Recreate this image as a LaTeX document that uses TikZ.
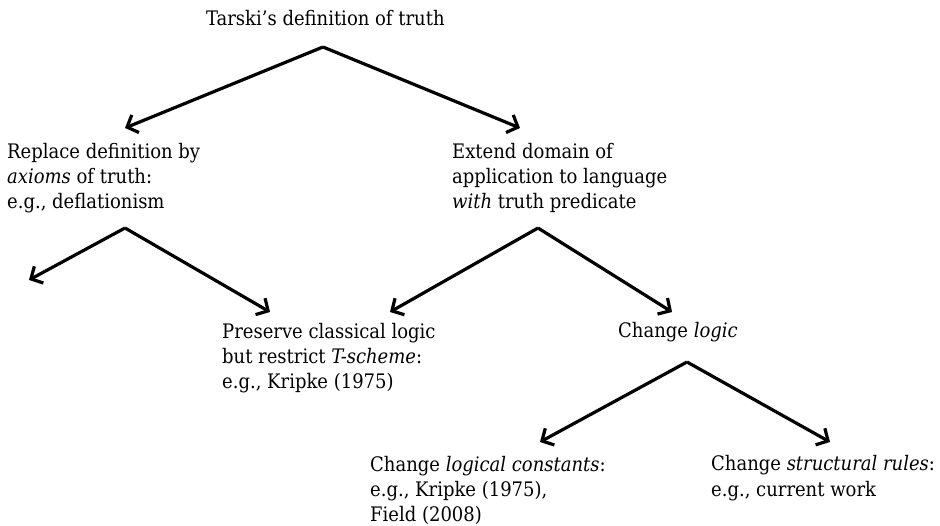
\documentclass[tikz,border=0pt]{standalone}
\usepackage{fontspec}
\setmainfont{DejaVu Serif Condensed}
\usetikzlibrary{arrows.meta}
\begin{document}
\begin{tikzpicture}[x=1pt,y=-1pt,
  label text/.style={anchor=base west, inner sep=0pt, align=left,
    font=\fontsize{20}{25}\selectfont},
  branch/.style={line width=3.2pt, line join=miter,
    -{Straight Barb[length=9pt,width=19pt,line width=3.2pt]}}]
\useasboundingbox (0,0) rectangle (940,526);

% text of the tree (each node sits on the baseline of its last line)
\node[label text] (root) at (206,26) {Tarski’s definition of truth};
\node[label text] (axioms) at (7,209) {Replace definition by\\\textit{axioms} of truth:\\e.g., deflationism};
\node[label text] (extend) at (452,209) {Extend domain of\\application to language\\\textit{with} truth predicate};
\node[label text] (classical) at (222,389) {Preserve classical logic\\but restrict \textit{T-scheme}:\\e.g., Kripke (1975)};
\node[label text] (logic) at (618,338) {Change \textit{logic}};
\node[label text] (constants) at (370,521) {Change \textit{logical constants}:\\e.g., Kripke (1975),\\Field (2008)};
\node[label text] (structural) at (711,496) {Change \textit{structural rules}:\\e.g., current work};

% forks below each parent and arrow tips above each child
\coordinate (root-fork) at (323,47);
\coordinate (axioms-tip) at (125,128);
\coordinate (extend-tip) at (520,128);
\coordinate (axioms-fork) at (125,228);
\coordinate (open-tip) at (29,280);
\coordinate (classical-tip-a) at (270,312);
\coordinate (extend-fork) at (538,228);
\coordinate (classical-tip-b) at (390,312);
\coordinate (logic-tip) at (672,312);
\coordinate (logic-fork) at (687,362);
\coordinate (constants-tip) at (540,442);
\coordinate (structural-tip) at (830,442);

% branches
\draw[branch] (root-fork) -- (axioms-tip);
\draw[branch] (root-fork) -- (extend-tip);
\draw[branch] (axioms-fork) -- (open-tip);
\draw[branch] (axioms-fork) -- (classical-tip-a);
\draw[branch] (extend-fork) -- (classical-tip-b);
\draw[branch] (extend-fork) -- (logic-tip);
\draw[branch] (logic-fork) -- (constants-tip);
\draw[branch] (logic-fork) -- (structural-tip);
\end{tikzpicture}
\end{document}
